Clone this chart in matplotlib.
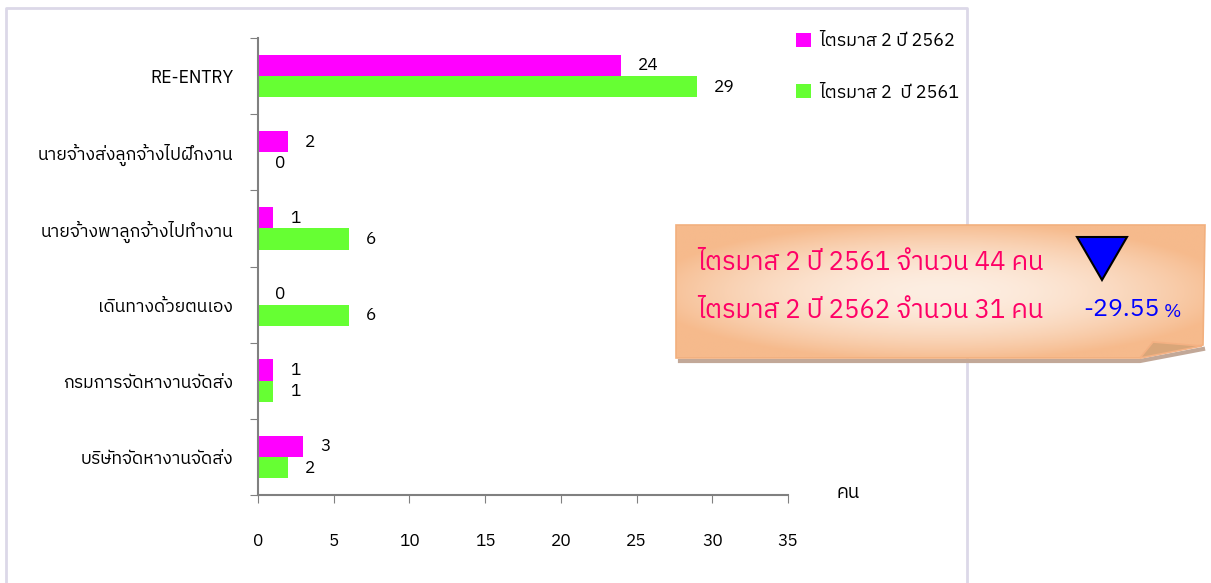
import numpy as np
import matplotlib
matplotlib.use("Agg")
import matplotlib.pyplot as plt
from matplotlib import font_manager
from matplotlib.patches import Polygon

categories = ["RE-ENTRY", "นายจ้างส่งลูกจ้างไปฝึกงาน", "นายจ้างพาลูกจ้างไปทำงาน",
              "เดินทางด้วยตนเอง", "กรมการจัดหางานจัดส่ง", "บริษัทจัดหางานจัดส่ง"]
q2_2562 = [24, 2, 1, 0, 1, 3]
q2_2561 = [29, 0, 6, 6, 1, 2]
label_2562 = "ไตรมาส 2 ปี 2562"
label_2561 = "ไตรมาส 2  ปี 2561"
xticks = [0, 5, 10, 15, 20, 25, 30, 35]
total_2561 = 44
total_2562 = 31
change_pct = -29.55

# pick a font that can draw Thai, if one is around
names = sorted({f.name for f in font_manager.fontManager.ttflist})
thai = [n for n in names if any(k in n for k in ("Thai", "Tlwg", "Loma", "Garuda", "Norasi", "Kinnari", "Sarabun", "Tahoma"))]
plt.rcParams["font.family"] = thai[:1] + ["DejaVu Sans"]

MAG = "#ff00ff"
GRN = "#66ff33"
W, H = 1211, 583
fig = plt.figure(figsize=(W / 100, H / 100), dpi=100)

def fx(px):
    return px / W

def fy(py):
    return 1 - py / H

# outer chart frame
frame = fig.add_axes([0, 0, 1, 1], zorder=-5)
frame.set_xlim(0, W)
frame.set_ylim(H, 0)
frame.axis("off")
frame.plot([6, 6, 967, 967], [583, 8, 8, 583], color="#dcd8e8", lw=2)

ax = fig.add_axes([fx(258), fy(495), fx(788) - fx(258), fy(38) - fy(495)])
y = np.arange(len(categories))
h = 0.28
b1 = ax.barh(y - h / 2, q2_2562, height=h, color=MAG, label=label_2562)
b2 = ax.barh(y + h / 2, q2_2561, height=h, color=GRN, label=label_2561)
for bars, vals in ((b1, q2_2562), (b2, q2_2561)):
    for r, v in zip(bars, vals):
        ax.annotate(str(v), (v, r.get_y() + r.get_height() / 2), xytext=(12, 0),
                    textcoords="offset points", va="center", ha="left", fontsize=12.5)

ax.set_ylim(len(categories) - 0.5, -0.5)
ax.set_xlim(0, 35)
ax.set_xticks(xticks)
ax.set_yticks(np.arange(len(categories) + 1) - 0.5)
ax.set_yticklabels([])
ax.set_yticks(y, minor=True)
ax.set_yticklabels(categories, minor=True, fontsize=12.7)
ax.tick_params(axis="y", which="minor", length=0, pad=18)
ax.tick_params(axis="y", which="major", length=6, color="#808080")
ax.tick_params(axis="x", length=6, color="#808080", pad=21, labelsize=12.5)
for s in ("top", "right"):
    ax.spines[s].set_visible(False)
for s in ("left", "bottom"):
    ax.spines[s].set_color("#808080")
    ax.spines[s].set_linewidth(1.5)
fig.text(fx(837), fy(493), "คน", fontsize=13.5, va="center")

fig.legend(handles=[b1, b2], loc="upper left", bbox_to_anchor=(fx(780), fy(16)),
           frameon=False, fontsize=13, handlelength=0.8, handleheight=0.8,
           handletextpad=0.45, labelspacing=1.85)

# summary note box with folded corner
note = fig.add_axes([0, 0, 1, 1], zorder=5)
note.set_xlim(0, W)
note.set_ylim(H, 0)
note.axis("off")
x0, x1, y0, y1 = 676, 1205, 225, 358
shape = [(x0, y0), (x1, y0), (x1 - 2, 345), (1140, y1), (x0, y1)]
gx, gy = np.meshgrid(np.linspace(-1, 1, 300), np.linspace(-1, 1, 80))
r = np.clip(np.sqrt(gx ** 2 * 0.8 + gy ** 2 * 0.9), 0, 1)
c_in = np.array([253, 238, 226]) / 255
c_out = np.array([246, 186, 140]) / 255
img = c_in[None, None, :] * (1 - r[..., None] ** 1.8) + c_out[None, None, :] * r[..., None] ** 1.8
im = note.imshow(img, extent=(x0, x1, y1, y0), aspect="auto", zorder=1)
poly = Polygon(shape, closed=True, facecolor="none", edgecolor="#f2b07e", lw=1.2, zorder=2)
note.add_patch(poly)
im.set_clip_path(poly)
note.add_patch(Polygon([(1140, y1), (1153, 342), (x1 - 3, 346)], closed=True,
                       facecolor="#d9a679", edgecolor="#f4b183", lw=1.2, zorder=3))
note.plot([x0 + 4, 1140, x1 - 2], [y1 + 3, y1 + 3, 349], color="#c2a898", lw=3, zorder=0)
note.add_patch(Polygon([(1077, 237), (1127, 237), (1102, 280)], closed=True,
                       facecolor="#0000ff", edgecolor="black", lw=1.5, zorder=4))
note.text(697, 262, f"ไตรมาส 2 ปี 2561 จำนวน {total_2561} คน", color="#ff0066",
          fontsize=18.5, va="center", ha="left", zorder=4)
note.text(697, 310, f"ไตรมาส 2 ปี 2562 จำนวน {total_2562} คน", color="#ff0066",
          fontsize=18.5, va="center", ha="left", zorder=4)
note.text(1160, 310, f"{change_pct:.2f}", color="#0000ff", fontsize=18,
          va="center", ha="right", zorder=4)
note.text(1164, 312, "%", color="#0000ff", fontsize=13.5, va="center", ha="left", zorder=4)

fig.savefig("out.png", dpi=100)
